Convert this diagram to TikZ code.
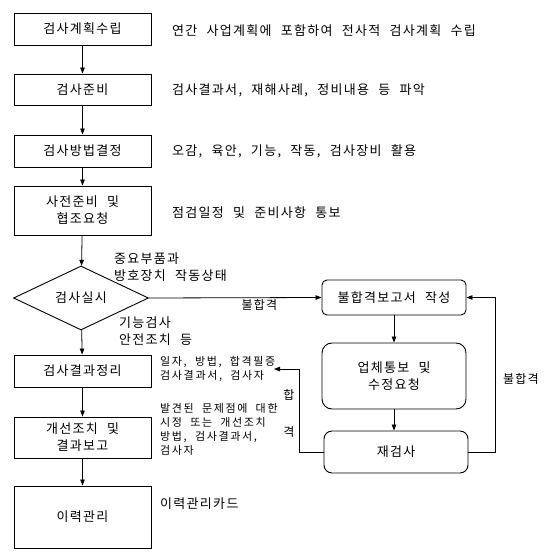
\documentclass[tikz,border=0pt]{standalone}
\usepackage{fontspec}
\setmainfont[WordSpace=2.2,LetterSpace=10]{Noto Sans CJK KR}
\newfontfamily\smallkr[WordSpace=2,LetterSpace=15]{Noto Sans CJK KR}
\usetikzlibrary{arrows.meta,shapes.geometric}

\begin{document}
\begin{tikzpicture}[
    x=1pt, y=-1pt,
    font=\fontsize{13}{17}\selectfont,
    flow/.style={-{Triangle[length=6pt,width=4.5pt]}, line width=0.8pt, draw=black},
    % Box styles
    stepbox/.style={draw, line width=0.9pt, minimum width=137pt, align=center, inner sep=2pt},
    roundbox/.style={draw, line width=0.9pt, rounded corners=7pt, minimum width=144pt, align=center},
    decision/.style={draw, diamond, line width=0.9pt, minimum width=135pt, minimum height=64pt, inner sep=0pt},
    % Text styles
    note/.style={anchor=west, align=left, inner sep=0pt},
    small note/.style={note, font=\smallkr\fontsize{11}{14}\selectfont},
    tag/.style={inner sep=1pt, font=\fontsize{12}{14}\selectfont}
]
\useasboundingbox (0,0) rectangle (554,553);

% --- Main column ---
\node[stepbox, minimum height=32pt] (plan) at (82.5,29) {검사계획수립};
\node[stepbox, minimum height=31pt] (prep) at (82.5,89.5) {검사준비};
\node[stepbox, minimum height=32pt] (method) at (82.5,151) {검사방법결정};
\node[stepbox, minimum height=49pt] (notify) at (82.5,210.5) {사전준비 및\\협조요청};
\node[decision] (check) at (81,298) {검사실시};
\node[stepbox, minimum height=32pt] (result) at (82.5,371) {검사결과정리};
\node[stepbox, minimum height=41pt] (improve) at (82.5,437.5) {개선조치 및\\결과보고};
\node[stepbox, minimum height=62pt] (history) at (82.5,517) {이력관리};

\draw[flow] (plan) -- (prep);
\draw[flow] (prep) -- (method);
\draw[flow] (method) -- (notify);
\draw[flow] (notify) -- (check);
\draw[flow] (check) -- (result);
\draw[flow] (result) -- (improve);
\draw[flow] (improve) -- (history);

% --- Notes ---
\node[note] (plannote) at (172,31) {연간 사업계획에 포함하여 전사적 검사계획 수립};
\node[note] (prepnote) at (172,90) {검사결과서, 재해사례, 정비내용 등 파악};
\node[note] (methodnote) at (172,151) {오감, 육안, 기능, 작동, 검사장비 활용};
\node[note] (notifynote) at (172,213) {점검일정 및 준비사항 통보};
\node[note] (partsnote) at (114,267) {중요부품과\\방호장치 작동상태};
\node[note] (testnote) at (119,331) {기능검사\\안전조치 등};
\node[small note] (resultnote) at (160,369) {일자, 방법, 합격필증\\검사결과서, 검사자};
\node[small note] (improvenote) at (160,429) {발견된 문제점에 대한\\시정 또는 개선조치\\방법, 검사결과서,\\검사자};
\node[note] (historynote) at (160,504) {이력관리카드};
\coordinate (passin) at (274,369);

% --- Fail loop ---
\node[roundbox, minimum height=35pt, rounded corners=5pt] (report) at (394,297.5) {불합격보고서 작성};
\node[roundbox, minimum height=66pt, rounded corners=10pt] (request) at (394,376) {업체통보 및\\수정요청};
\node[roundbox, minimum height=42pt, rounded corners=8pt] (recheck) at (396,452) {재검사};

\draw[flow] (check.east) -- node[tag, below, pos=0.64] {불합격} (report.west);
\draw[flow] (report) -- (request);
\draw[flow] (request) -- (recheck.north -| request.south);
\draw[flow] (recheck.west) -- ++(-24,0) |- (passin);
\draw[flow] (recheck.east) -- ++(27,0) |- (report.east);

\node[tag] (passA) at (289,395) {합};
\node[tag] (passB) at (289,432) {격};
\node[tag] (failtag) at (521,379) {불합격};

\end{tikzpicture}
\end{document}
